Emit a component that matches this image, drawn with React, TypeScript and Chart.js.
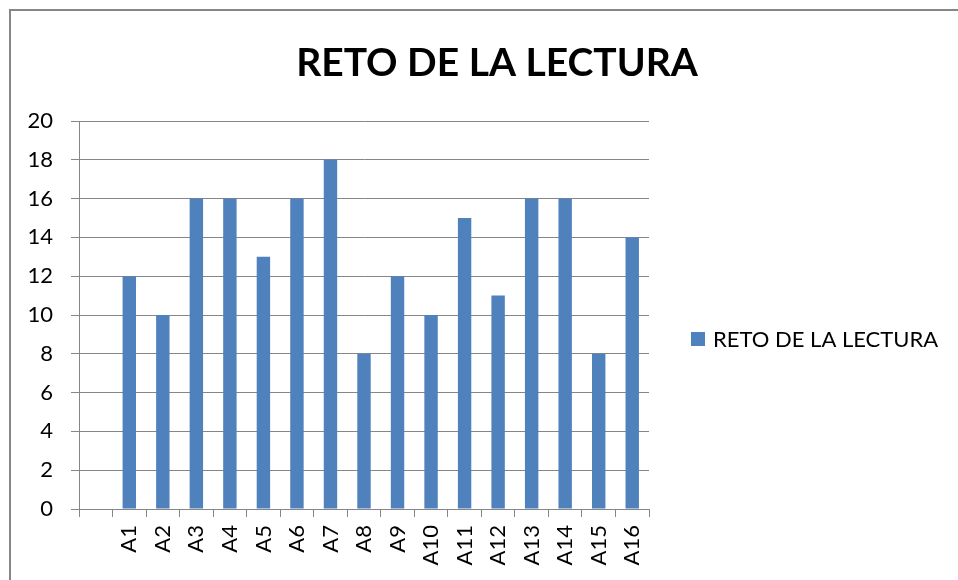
import React, { useEffect, useRef } from "react";
import { Chart, registerables } from "chart.js";

Chart.register(...registerables);

const TITLE = "RETO DE LA LECTURA";
const SERIES_NAME = "RETO DE LA LECTURA";
const categories = ["", "A1", "A2", "A3", "A4", "A5", "A6", "A7", "A8", "A9", "A10", "A11", "A12", "A13", "A14", "A15", "A16"];
const values = [null, 12, 10, 16, 16, 13, 16, 18, 8, 12, 10, 15, 11, 16, 16, 8, 14];
const yMin = 0;
const yMax = 20;
const yStep = 2;

const BAR_COLOR = "#4F81BD";
const GRID_COLOR = "#868686";
const FONT = "Lato";

const decorPlugin = {
  id: "decor",
  afterDraw(chart: any) {
    const ctx = chart.ctx;
    ctx.save();
    // title
    ctx.fillStyle = "#000";
    ctx.font = `bold 39px ${FONT}`;
    ctx.textAlign = "center";
    ctx.textBaseline = "alphabetic";
    ctx.fillText(TITLE, 497, 76);
    // legend
    const ds = chart.data.datasets[0];
    ctx.fillStyle = ds.backgroundColor;
    ctx.fillRect(691, 332, 14, 14);
    ctx.fillStyle = "#000";
    ctx.font = `22px ${FONT}`;
    ctx.textAlign = "left";
    ctx.fillText(ds.label, 713, 347);
    ctx.restore();
  },
};

export default function App() {
  const ref = useRef<HTMLCanvasElement>(null);
  useEffect(() => {
    if (!ref.current) return;
    const chart = new Chart(ref.current, {
      type: "bar",
      data: {
        labels: categories,
        datasets: [
          {
            label: SERIES_NAME,
            data: values,
            backgroundColor: BAR_COLOR,
            borderWidth: 0,
            categoryPercentage: 1,
            barPercentage: 0.4,
          },
        ],
      },
      options: {
        responsive: false,
        animation: false,
        layout: { padding: { left: 0, right: 309, top: 121, bottom: 0 } },
        plugins: {
          legend: { display: false },
          title: { display: false },
          tooltip: { enabled: false },
        },
        scales: {
          x: {
            offset: true,
            grid: {
              display: true,
              drawOnChartArea: false,
              drawTicks: true,
              tickLength: 8,
              color: GRID_COLOR,
              offset: true,
            },
            border: { display: true, color: GRID_COLOR, width: 1 },
            ticks: {
              minRotation: 90,
              maxRotation: 90,
              autoSkip: false,
              color: "#000",
              padding: 8,
              font: { family: FONT, size: 22 },
            },
            afterFit: (s: any) => {
              s.height = 71;
            },
          },
          y: {
            min: yMin,
            max: yMax,
            ticks: {
              stepSize: yStep,
              color: "#000",
              padding: 18,
              font: { family: FONT, size: 22 },
            },
            grid: { color: GRID_COLOR, tickLength: 8 },
            border: { display: true, color: GRID_COLOR, width: 1 },
            afterFit: (s: any) => {
              s.width = 79;
            },
          },
        },
      },
      plugins: [decorPlugin],
    });
    return () => chart.destroy();
  }, []);

  return (
    <div
      style={{
        position: "fixed",
        left: 0,
        top: 0,
        width: 958,
        height: 580,
        overflow: "hidden",
        background: "#fff",
      }}
    >
      <canvas ref={ref} width={958} height={580} style={{ position: "absolute", left: 0, top: 0 }} />
      <div
        style={{
          position: "absolute",
          left: 9,
          top: 9,
          width: 1200,
          height: 1200,
          borderTop: `2px solid ${GRID_COLOR}`,
          borderLeft: `2px solid ${GRID_COLOR}`,
          pointerEvents: "none",
        }}
      />
    </div>
  );
}
